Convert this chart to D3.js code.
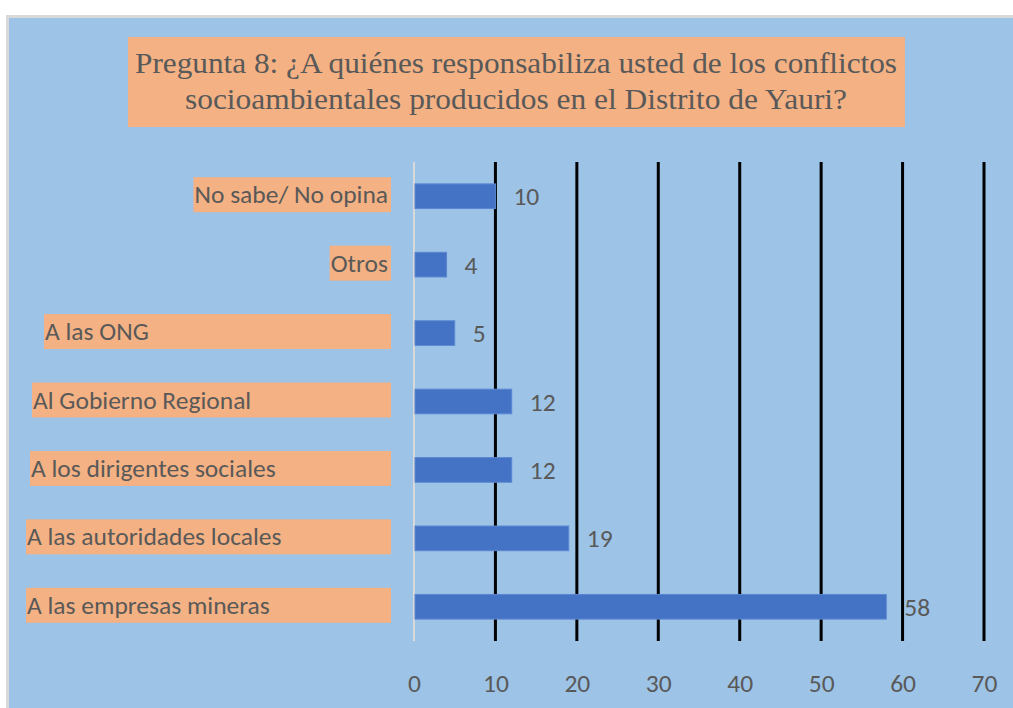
<!DOCTYPE html>
<html>
<head>
<meta charset="utf-8">
<script src="https://cdn.jsdelivr.net/npm/d3@7"></script>
<style>
  body { margin: 0; background: #ffffff; }
  svg { display: block; }
</style>
</head>
<body>
<div id="chart"></div>
<script>
// DATA (top to bottom, as shown)
const categories = [
    "No sabe/ No opina",
    "Otros",
    "A las ONG",
    "Al Gobierno Regional",
    "A los dirigentes sociales",
    "A las autoridades locales",
    "A las empresas mineras"
];
const values = [10, 4, 5, 12, 12, 19, 58];
const tickValues = [0, 10, 20, 30, 40, 50, 60, 70];
const titleLines = [
    "Pregunta 8: ¿A quiénes responsabiliza usted de los conflictos",
    "socioambientales producidos en el Distrito de Yauri?"
];

// GLOBAL VARIABLES FOR LAYOUT
const width = 1013;
const height = 708;
const bgColor = "#9DC3E6";
const orange = "#F4B183";
const barColor = "#4472C4";
const textColor = "#595959";
const labelFont = "Carlito, Lato, sans-serif";
const labelSize = 25.5;

// where each label starts (null = right aligned against the axis)
const labelStart = {
    "No sabe/ No opina": null,
    "Otros": null,
    "A las ONG": 45,
    "Al Gobierno Regional": 33,
    "A los dirigentes sociales": 31,
    "A las autoridades locales": 27,
    "A las empresas mineras": 27
};
const labelRight = 388;

const svg = d3.select("#chart")
    .append("svg")
    .attr("width", width)
    .attr("height", height);

// ---------------------------------------------------------------------------------
// FRAME

svg.append("rect")
    .attr("x", 0).attr("y", 0)
    .attr("width", width).attr("height", height)
    .attr("fill", "#ffffff");

svg.append("rect")
    .attr("x", 6).attr("y", 15)
    .attr("width", width - 6).attr("height", height - 15)
    .attr("fill", "#d9d9d9");

svg.append("rect")
    .attr("x", 9).attr("y", 18)
    .attr("width", width - 9).attr("height", height - 18)
    .attr("fill", bgColor);

// ---------------------------------------------------------------------------------
// TITLE

svg.append("rect")
    .attr("x", 128).attr("y", 37)
    .attr("width", 777).attr("height", 90)
    .attr("fill", orange);

const titleWidths = [762, 662];
svg.selectAll(".title-line")
    .data(titleLines)
    .join("text")
    .attr("class", "title-line")
    .attr("x", 516)
    .attr("y", (d, i) => 73 + i * 36)
    .attr("text-anchor", "middle")
    .attr("textLength", (d, i) => titleWidths[i])
    .attr("lengthAdjust", "spacingAndGlyphs")
    .attr("font-family", "'Liberation Serif', 'Times New Roman', serif")
    .attr("font-size", 30)
    .attr("fill", textColor)
    .text(d => d);

// ---------------------------------------------------------------------------------
// SCALES

const x = d3.scaleLinear()
    .domain([0, 70])
    .range([414, 984]);

const y = d3.scaleBand()
    .domain(categories)
    .range([162, 641])
    .paddingInner(0.64)
    .paddingOuter(0.32);

// ---------------------------------------------------------------------------------
// GRIDLINES AND AXIS

svg.append("g")
    .selectAll("line")
    .data(tickValues.filter(d => d > 0))
    .join("line")
    .attr("x1", d => x(d)).attr("x2", d => x(d))
    .attr("y1", 162).attr("y2", 641)
    .attr("stroke", "#000000")
    .attr("stroke-width", 3);

svg.append("line")
    .attr("x1", x(0)).attr("x2", x(0))
    .attr("y1", 162).attr("y2", 641)
    .attr("stroke", "#d9d9d9")
    .attr("stroke-width", 2);

const xAxis = svg.append("g")
    .attr("transform", "translate(0,692)")
    .call(d3.axisBottom(x).tickValues(tickValues).tickSize(0).tickPadding(0));

xAxis.select(".domain").remove();
xAxis.selectAll("text")
    .attr("y", 0)
    .attr("dy", 0)
    .attr("font-family", labelFont)
    .attr("font-size", labelSize)
    .attr("fill", textColor);

// ---------------------------------------------------------------------------------
// BARS

svg.append("g")
    .selectAll("rect")
    .data(values)
    .join("rect")
    .attr("x", x(0) + 1)
    .attr("y", (d, i) => y(categories[i]))
    .attr("width", d => x(d) - x(0) - 1)
    .attr("height", y.bandwidth())
    .attr("fill", barColor)
    .attr("stroke", "#5B87D2")
    .attr("stroke-width", 1);

// value labels
svg.append("g")
    .selectAll("text")
    .data(values)
    .join("text")
    .attr("x", d => x(d) + 18)
    .attr("y", (d, i) => y(categories[i]) + y.bandwidth() / 2 + 9)
    .attr("font-family", labelFont)
    .attr("font-size", labelSize)
    .attr("fill", textColor)
    .text(d => d);

// ---------------------------------------------------------------------------------
// CATEGORY LABELS WITH ORANGE BOXES

const labels = svg.append("g")
    .selectAll("g")
    .data(categories)
    .join("g");

labels.each(function(d) {
    const g = d3.select(this);
    const cy = y(d) + y.bandwidth() / 2 - 1.5;
    const box = g.append("rect")
        .attr("y", cy - 17.5)
        .attr("height", 35)
        .attr("fill", orange);
    const start = labelStart[d];
    const t = g.append("text")
        .attr("x", start === null ? labelRight : start)
        .attr("y", cy + 8.5)
        .attr("text-anchor", start === null ? "end" : "start")
        .attr("font-family", labelFont)
        .attr("font-size", labelSize)
        .attr("fill", textColor)
        .text(d);
    const w = t.node().getComputedTextLength();
    const left = start === null ? labelRight - w - 1 : start - 1;
    box.attr("x", left).attr("width", 391 - left);
});
</script>
</body>
</html>
